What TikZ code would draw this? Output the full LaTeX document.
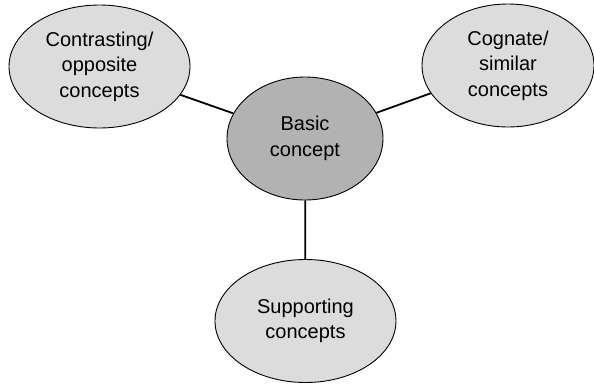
\documentclass[tikz,border=0pt]{standalone}
\usepackage{fontspec}
\setmainfont{Liberation Sans}
\usetikzlibrary{shapes.geometric}
\begin{document}
\begin{tikzpicture}[x=1pt,y=-1pt,
  bubble/.style={ellipse, draw=black, line width=0.9pt, fill=lightfill, inner sep=0pt,
    minimum width=181pt, minimum height=123pt, align=center,
    font=\fontsize{20}{25.5}\selectfont},
  core/.style={bubble, fill=corefill, minimum width=156pt, minimum height=123pt},
  link/.style={line width=1.8pt}]
\definecolor{lightfill}{HTML}{DCDCDC}
\definecolor{corefill}{HTML}{B2B2B2}
\useasboundingbox (0,0) rectangle (594,383);
\node[bubble] (opp) at (99.5,66.5) {Contrasting/\\opposite\\concepts};
\node[bubble, minimum width=172pt] (cog) at (508,65.5) {Cognate/\\similar\\concepts};
\node[core] (basic) at (305,138.5) {Basic\\concept};
\node[bubble] (sup) at (305.5,321) {Supporting\\concepts};
\draw[link] (opp) -- (basic);
\draw[link] (cog) -- (basic);
\draw[link] (basic) -- (sup);
\end{tikzpicture}
\end{document}
